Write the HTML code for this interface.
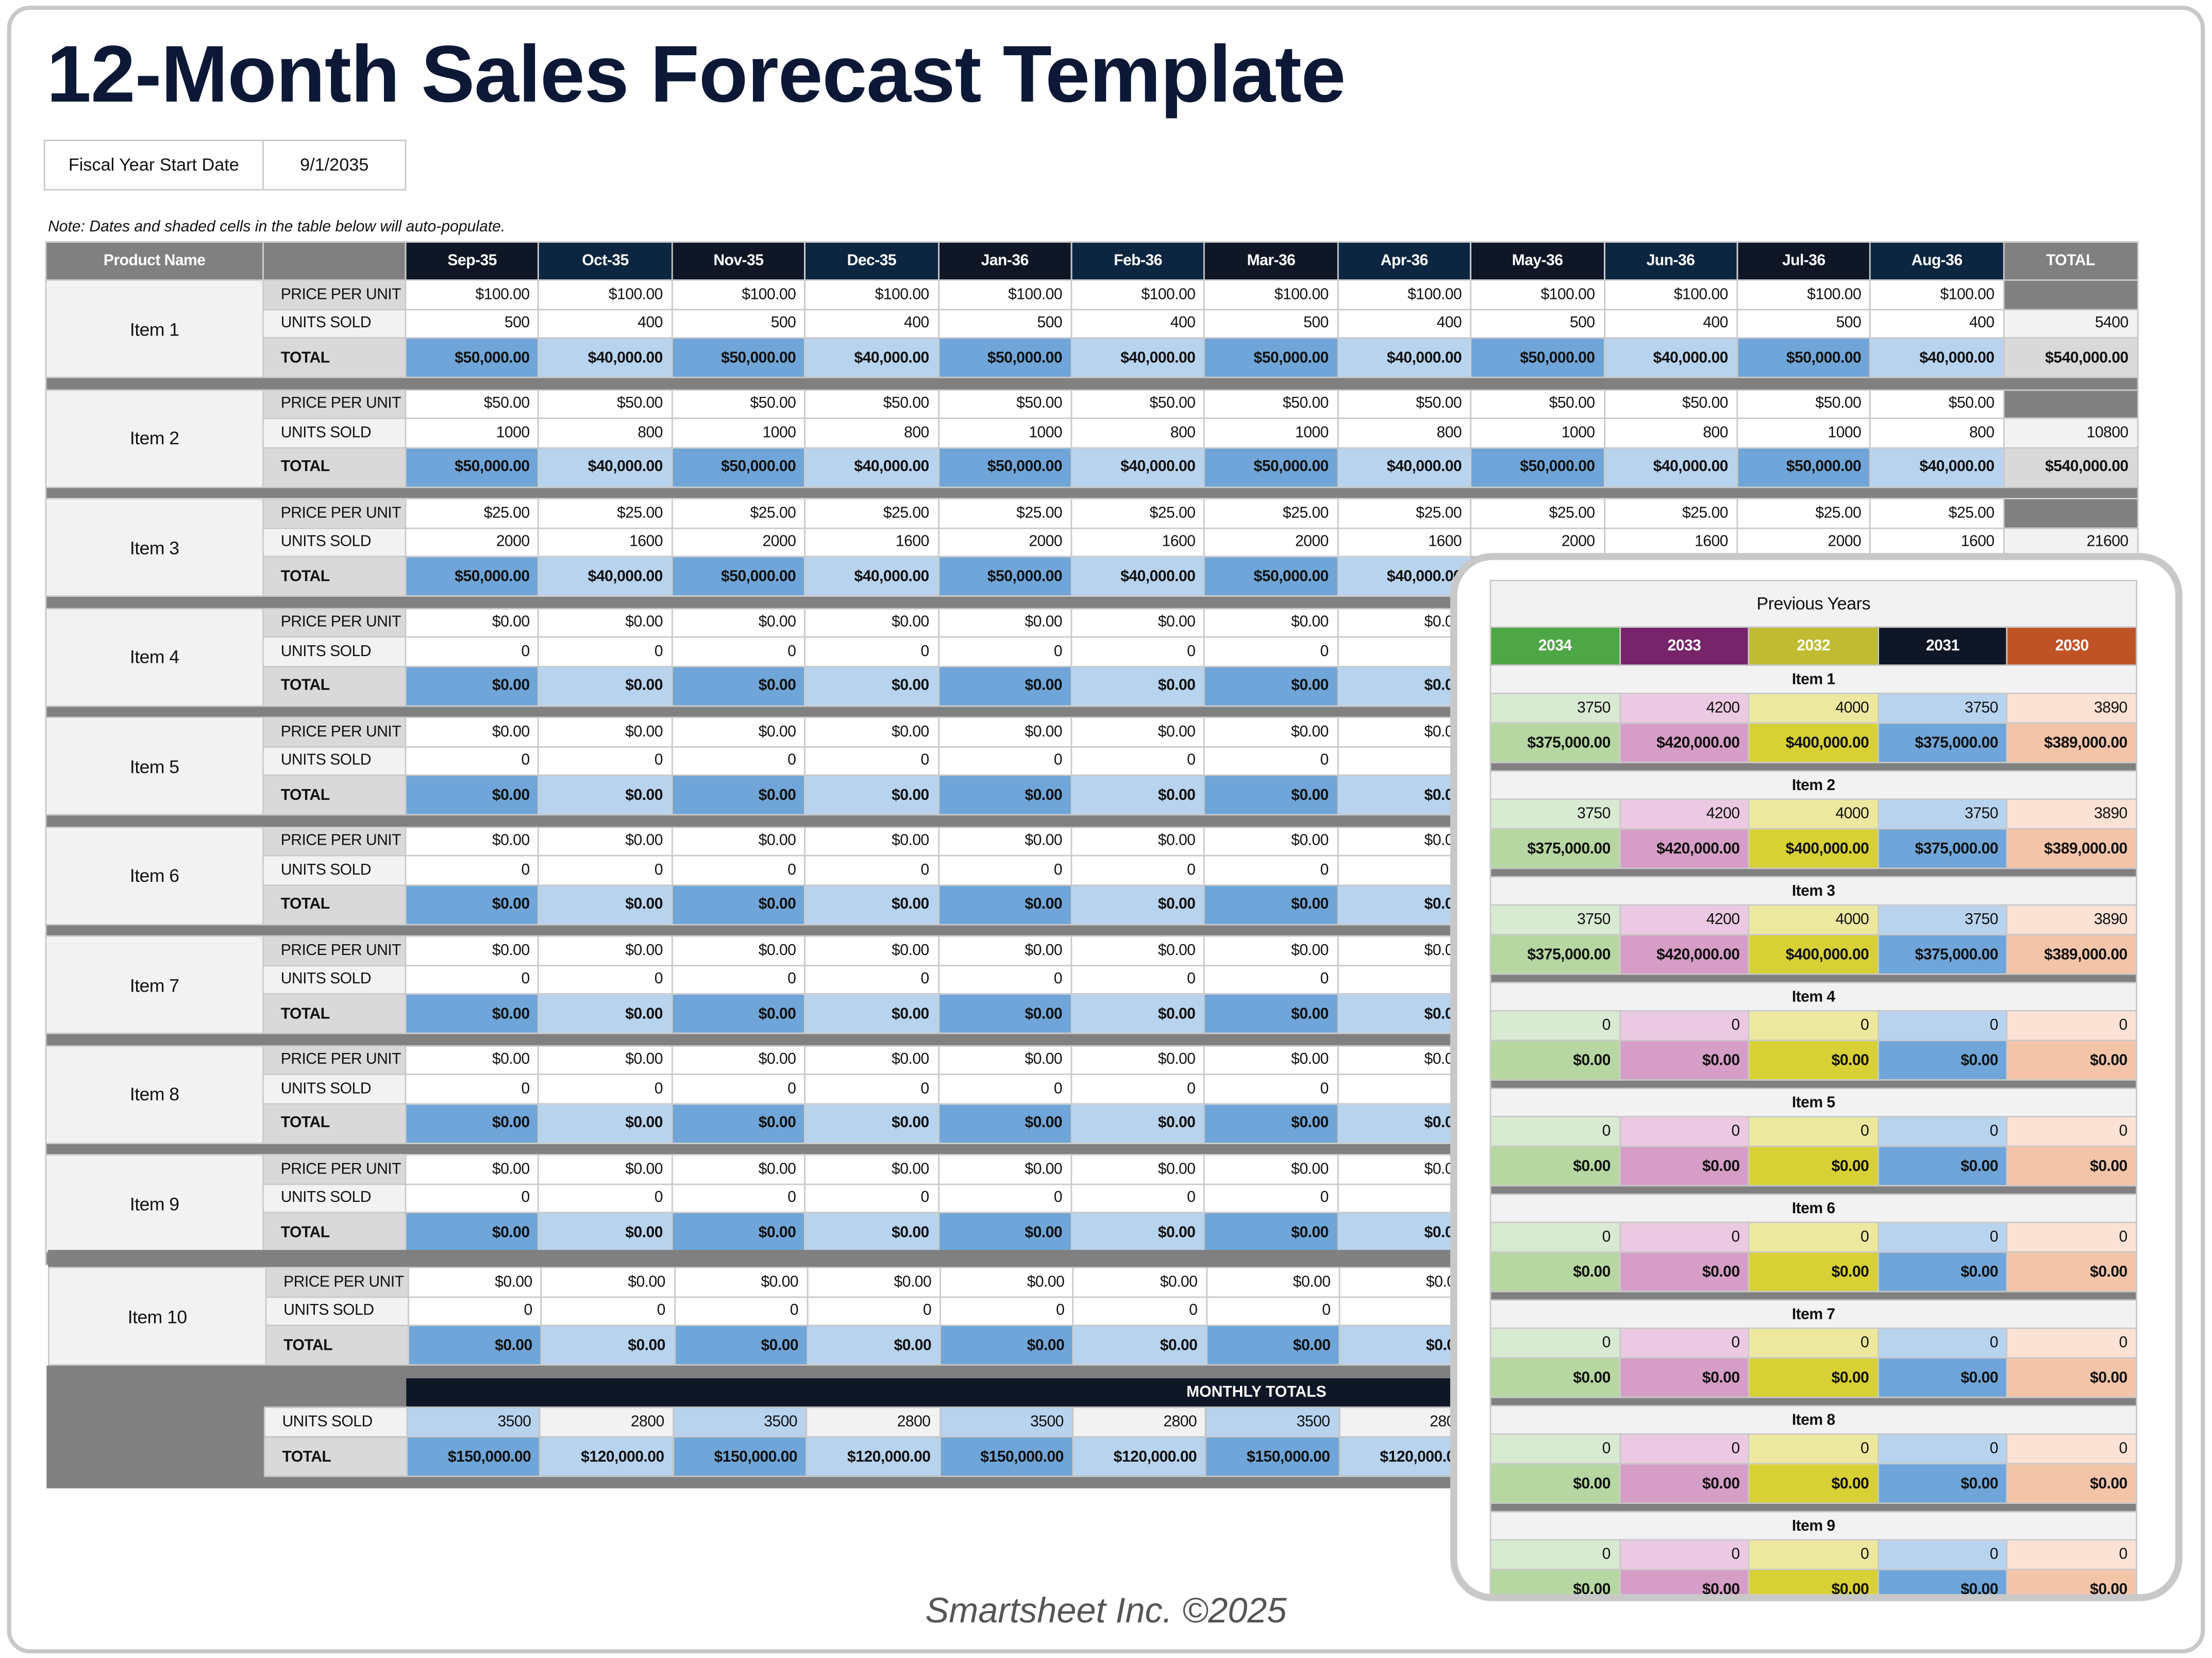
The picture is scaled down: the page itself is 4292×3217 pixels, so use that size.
<!DOCTYPE html>
<html><head><meta charset="utf-8">
<style>
html,body{margin:0;padding:0;background:#fff;width:4292px;height:3217px;overflow:hidden}
#w{position:absolute;left:0;top:0;width:1568px;height:1175px;transform:scale(2.73724);transform-origin:0 0;font-family:"Liberation Sans",sans-serif;color:#111}
.frame{position:absolute;left:5px;top:4px;width:1552px;height:1162px;border:3px solid #c8c8c8;border-radius:16px}
.title{position:absolute;left:33px;top:20px;font-size:57px;font-weight:bold;color:#0c1836;letter-spacing:-0.4px;white-space:nowrap}
.fy{position:absolute;left:31px;top:99px;border-collapse:collapse;font-size:12.5px;table-layout:fixed;width:256px}
.fy td{border:1px solid #c8c8c8;height:34px;padding:0;text-align:center}
.note{position:absolute;left:34px;top:155px;font-size:11px;font-style:italic}
table.m{position:absolute;border-collapse:collapse;table-layout:fixed;font-size:11px}
table.m td{border:1px solid #c8c8c8;padding:0 6px 0 0;text-align:right;white-space:nowrap;overflow:hidden;letter-spacing:-0.2px}
tr.h td{height:26px;background:#808080;color:#fff;text-align:center;font-weight:bold;padding:0;font-size:11px}
tr.h td.d1{background:#0f1726}tr.h td.d2{background:#0c2641}
tr.p td{height:19.5px;background:#fff}
tr.u td{height:19.5px;background:#fff}
tr.t td{height:27px;font-weight:bold}
tr.s td{height:7.5px;background:#808080;padding:0}
td.nm{background:#f2f2f2!important;text-align:center!important;padding:0!important;font-size:13px}
td.lp{background:#d9d9d9!important;text-align:left!important;padding-left:12px!important;font-weight:normal}
td.lu{background:#f2f2f2!important;text-align:left!important;padding-left:12px!important}
td.lt{background:#d9d9d9!important;text-align:left!important;padding-left:12px!important}
td.a{background:#6fa5d8!important}td.b{background:#b8d3ee!important}
td.g{background:#808080!important}td.tu{background:#f2f2f2!important}td.tt{background:#d9d9d9!important}
td.c{background:#f2f2f2!important}
.gb{position:absolute;left:33px;top:968px;width:1482px;height:87px;background:#808080}
.foot{position:absolute;left:0;width:1568px;top:1128px;text-align:center;font-size:25px;font-style:italic;color:#555}
.panel{position:absolute;left:1028px;top:392px;width:509px;height:733px;border:5px solid #c8c8c8;border-radius:30px;background:#fff;overflow:hidden}
table.py{position:absolute;left:23px;top:14px;width:459px;border-collapse:collapse;table-layout:fixed;font-size:11px}
table.py td{border:1px solid #c8c8c8;text-align:right;padding:0 6px 0 0;white-space:nowrap;letter-spacing:-0.2px}
table.py tr.ti td{height:32px;background:#f2f2f2;text-align:center;padding:0;font-size:12.5px}
table.py tr.yr td{height:26px;color:#fff;text-align:center;padding:0;font-weight:bold}
table.py tr.in td{height:19px;background:#f2f2f2;text-align:center;padding:0;font-weight:bold}
table.py tr.v td{height:20px}
table.py tr.tot td{height:27px;font-weight:bold}
table.py tr.sp td{height:5px;background:#808080;padding:0}
.g1{background:#4ea646}.g2{background:#d9ead3}.g3{background:#b6d7a1}
.p1{background:#77246b}.p2{background:#ecc9e2}.p3{background:#d69dc6}
.y1{background:#c0bb30}.y2{background:#ede89f}.y3{background:#d8d135}
.n1{background:#0f1726}.n2{background:#b8d3ee}.n3{background:#6fa5d8}
.o1{background:#bf5326}.o2{background:#fbe2d5}.o3{background:#f4c4a8}
</style></head><body><div id="w">
<div class="frame"></div>
<div class="title">12-Month Sales Forecast Template</div>
<table class="fy"><colgroup><col style="width:155px"><col style="width:101px"></colgroup><tr><td>Fiscal Year Start Date</td><td>9/1/2035</td></tr></table>
<div class="note">Note: Dates and shaded cells in the table below will auto-populate.</div>

<table class="m" style="left:32px;top:171px;width:1483px">
<colgroup><col style="width:154px"><col style="width:101px"><col span="12" style="width:94.4px"><col style="width:95px"></colgroup>
<tr class="h"><td>Product Name</td><td></td><td class="d1">Sep-35</td><td class="d2">Oct-35</td><td class="d1">Nov-35</td><td class="d2">Dec-35</td><td class="d1">Jan-36</td><td class="d2">Feb-36</td><td class="d1">Mar-36</td><td class="d2">Apr-36</td><td class="d1">May-36</td><td class="d2">Jun-36</td><td class="d1">Jul-36</td><td class="d2">Aug-36</td><td>TOTAL</td></tr>

<tr class="p"><td class="nm" rowspan="3">Item 1</td><td class="lp">PRICE PER UNIT</td><td>$100.00</td><td>$100.00</td><td>$100.00</td><td>$100.00</td><td>$100.00</td><td>$100.00</td><td>$100.00</td><td>$100.00</td><td>$100.00</td><td>$100.00</td><td>$100.00</td><td>$100.00</td><td class="g"></td></tr>
<tr class="u"><td class="lu">UNITS SOLD</td><td>500</td><td>400</td><td>500</td><td>400</td><td>500</td><td>400</td><td>500</td><td>400</td><td>500</td><td>400</td><td>500</td><td>400</td><td class="tu">5400</td></tr>
<tr class="t"><td class="lt">TOTAL</td><td class="a">$50,000.00</td><td class="b">$40,000.00</td><td class="a">$50,000.00</td><td class="b">$40,000.00</td><td class="a">$50,000.00</td><td class="b">$40,000.00</td><td class="a">$50,000.00</td><td class="b">$40,000.00</td><td class="a">$50,000.00</td><td class="b">$40,000.00</td><td class="a">$50,000.00</td><td class="b">$40,000.00</td><td class="tt">$540,000.00</td></tr>
<tr class="s"><td colspan="15"></td></tr>

<tr class="p"><td class="nm" rowspan="3">Item 2</td><td class="lp">PRICE PER UNIT</td><td>$50.00</td><td>$50.00</td><td>$50.00</td><td>$50.00</td><td>$50.00</td><td>$50.00</td><td>$50.00</td><td>$50.00</td><td>$50.00</td><td>$50.00</td><td>$50.00</td><td>$50.00</td><td class="g"></td></tr>
<tr class="u"><td class="lu">UNITS SOLD</td><td>1000</td><td>800</td><td>1000</td><td>800</td><td>1000</td><td>800</td><td>1000</td><td>800</td><td>1000</td><td>800</td><td>1000</td><td>800</td><td class="tu">10800</td></tr>
<tr class="t"><td class="lt">TOTAL</td><td class="a">$50,000.00</td><td class="b">$40,000.00</td><td class="a">$50,000.00</td><td class="b">$40,000.00</td><td class="a">$50,000.00</td><td class="b">$40,000.00</td><td class="a">$50,000.00</td><td class="b">$40,000.00</td><td class="a">$50,000.00</td><td class="b">$40,000.00</td><td class="a">$50,000.00</td><td class="b">$40,000.00</td><td class="tt">$540,000.00</td></tr>
<tr class="s"><td colspan="15"></td></tr>

<tr class="p"><td class="nm" rowspan="3">Item 3</td><td class="lp">PRICE PER UNIT</td><td>$25.00</td><td>$25.00</td><td>$25.00</td><td>$25.00</td><td>$25.00</td><td>$25.00</td><td>$25.00</td><td>$25.00</td><td>$25.00</td><td>$25.00</td><td>$25.00</td><td>$25.00</td><td class="g"></td></tr>
<tr class="u"><td class="lu">UNITS SOLD</td><td>2000</td><td>1600</td><td>2000</td><td>1600</td><td>2000</td><td>1600</td><td>2000</td><td>1600</td><td>2000</td><td>1600</td><td>2000</td><td>1600</td><td class="tu">21600</td></tr>
<tr class="t"><td class="lt">TOTAL</td><td class="a">$50,000.00</td><td class="b">$40,000.00</td><td class="a">$50,000.00</td><td class="b">$40,000.00</td><td class="a">$50,000.00</td><td class="b">$40,000.00</td><td class="a">$50,000.00</td><td class="b">$40,000.00</td><td class="a">$50,000.00</td><td class="b">$40,000.00</td><td class="a">$50,000.00</td><td class="b">$40,000.00</td><td class="tt">$540,000.00</td></tr>
<tr class="s"><td colspan="15"></td></tr>

<tr class="p"><td class="nm" rowspan="3">Item 4</td><td class="lp">PRICE PER UNIT</td><td>$0.00</td><td>$0.00</td><td>$0.00</td><td>$0.00</td><td>$0.00</td><td>$0.00</td><td>$0.00</td><td>$0.00</td><td>$0.00</td><td>$0.00</td><td>$0.00</td><td>$0.00</td><td class="g"></td></tr>
<tr class="u"><td class="lu">UNITS SOLD</td><td>0</td><td>0</td><td>0</td><td>0</td><td>0</td><td>0</td><td>0</td><td>0</td><td>0</td><td>0</td><td>0</td><td>0</td><td class="tu">0</td></tr>
<tr class="t"><td class="lt">TOTAL</td><td class="a">$0.00</td><td class="b">$0.00</td><td class="a">$0.00</td><td class="b">$0.00</td><td class="a">$0.00</td><td class="b">$0.00</td><td class="a">$0.00</td><td class="b">$0.00</td><td class="a">$0.00</td><td class="b">$0.00</td><td class="a">$0.00</td><td class="b">$0.00</td><td class="tt">$0.00</td></tr>
<tr class="s"><td colspan="15"></td></tr>

<tr class="p"><td class="nm" rowspan="3">Item 5</td><td class="lp">PRICE PER UNIT</td><td>$0.00</td><td>$0.00</td><td>$0.00</td><td>$0.00</td><td>$0.00</td><td>$0.00</td><td>$0.00</td><td>$0.00</td><td>$0.00</td><td>$0.00</td><td>$0.00</td><td>$0.00</td><td class="g"></td></tr>
<tr class="u"><td class="lu">UNITS SOLD</td><td>0</td><td>0</td><td>0</td><td>0</td><td>0</td><td>0</td><td>0</td><td>0</td><td>0</td><td>0</td><td>0</td><td>0</td><td class="tu">0</td></tr>
<tr class="t"><td class="lt">TOTAL</td><td class="a">$0.00</td><td class="b">$0.00</td><td class="a">$0.00</td><td class="b">$0.00</td><td class="a">$0.00</td><td class="b">$0.00</td><td class="a">$0.00</td><td class="b">$0.00</td><td class="a">$0.00</td><td class="b">$0.00</td><td class="a">$0.00</td><td class="b">$0.00</td><td class="tt">$0.00</td></tr>
<tr class="s"><td colspan="15"></td></tr>

<tr class="p"><td class="nm" rowspan="3">Item 6</td><td class="lp">PRICE PER UNIT</td><td>$0.00</td><td>$0.00</td><td>$0.00</td><td>$0.00</td><td>$0.00</td><td>$0.00</td><td>$0.00</td><td>$0.00</td><td>$0.00</td><td>$0.00</td><td>$0.00</td><td>$0.00</td><td class="g"></td></tr>
<tr class="u"><td class="lu">UNITS SOLD</td><td>0</td><td>0</td><td>0</td><td>0</td><td>0</td><td>0</td><td>0</td><td>0</td><td>0</td><td>0</td><td>0</td><td>0</td><td class="tu">0</td></tr>
<tr class="t"><td class="lt">TOTAL</td><td class="a">$0.00</td><td class="b">$0.00</td><td class="a">$0.00</td><td class="b">$0.00</td><td class="a">$0.00</td><td class="b">$0.00</td><td class="a">$0.00</td><td class="b">$0.00</td><td class="a">$0.00</td><td class="b">$0.00</td><td class="a">$0.00</td><td class="b">$0.00</td><td class="tt">$0.00</td></tr>
<tr class="s"><td colspan="15"></td></tr>

<tr class="p"><td class="nm" rowspan="3">Item 7</td><td class="lp">PRICE PER UNIT</td><td>$0.00</td><td>$0.00</td><td>$0.00</td><td>$0.00</td><td>$0.00</td><td>$0.00</td><td>$0.00</td><td>$0.00</td><td>$0.00</td><td>$0.00</td><td>$0.00</td><td>$0.00</td><td class="g"></td></tr>
<tr class="u"><td class="lu">UNITS SOLD</td><td>0</td><td>0</td><td>0</td><td>0</td><td>0</td><td>0</td><td>0</td><td>0</td><td>0</td><td>0</td><td>0</td><td>0</td><td class="tu">0</td></tr>
<tr class="t"><td class="lt">TOTAL</td><td class="a">$0.00</td><td class="b">$0.00</td><td class="a">$0.00</td><td class="b">$0.00</td><td class="a">$0.00</td><td class="b">$0.00</td><td class="a">$0.00</td><td class="b">$0.00</td><td class="a">$0.00</td><td class="b">$0.00</td><td class="a">$0.00</td><td class="b">$0.00</td><td class="tt">$0.00</td></tr>
<tr class="s"><td colspan="15"></td></tr>

<tr class="p"><td class="nm" rowspan="3">Item 8</td><td class="lp">PRICE PER UNIT</td><td>$0.00</td><td>$0.00</td><td>$0.00</td><td>$0.00</td><td>$0.00</td><td>$0.00</td><td>$0.00</td><td>$0.00</td><td>$0.00</td><td>$0.00</td><td>$0.00</td><td>$0.00</td><td class="g"></td></tr>
<tr class="u"><td class="lu">UNITS SOLD</td><td>0</td><td>0</td><td>0</td><td>0</td><td>0</td><td>0</td><td>0</td><td>0</td><td>0</td><td>0</td><td>0</td><td>0</td><td class="tu">0</td></tr>
<tr class="t"><td class="lt">TOTAL</td><td class="a">$0.00</td><td class="b">$0.00</td><td class="a">$0.00</td><td class="b">$0.00</td><td class="a">$0.00</td><td class="b">$0.00</td><td class="a">$0.00</td><td class="b">$0.00</td><td class="a">$0.00</td><td class="b">$0.00</td><td class="a">$0.00</td><td class="b">$0.00</td><td class="tt">$0.00</td></tr>
<tr class="s"><td colspan="15"></td></tr>

<tr class="p"><td class="nm" rowspan="3">Item 9</td><td class="lp">PRICE PER UNIT</td><td>$0.00</td><td>$0.00</td><td>$0.00</td><td>$0.00</td><td>$0.00</td><td>$0.00</td><td>$0.00</td><td>$0.00</td><td>$0.00</td><td>$0.00</td><td>$0.00</td><td>$0.00</td><td class="g"></td></tr>
<tr class="u"><td class="lu">UNITS SOLD</td><td>0</td><td>0</td><td>0</td><td>0</td><td>0</td><td>0</td><td>0</td><td>0</td><td>0</td><td>0</td><td>0</td><td>0</td><td class="tu">0</td></tr>
<tr class="t"><td class="lt">TOTAL</td><td class="a">$0.00</td><td class="b">$0.00</td><td class="a">$0.00</td><td class="b">$0.00</td><td class="a">$0.00</td><td class="b">$0.00</td><td class="a">$0.00</td><td class="b">$0.00</td><td class="a">$0.00</td><td class="b">$0.00</td><td class="a">$0.00</td><td class="b">$0.00</td><td class="tt">$0.00</td></tr>
<tr class="s"><td colspan="15"></td></tr>
</table>

<div style="position:absolute;left:34px;top:886px;width:1481px;height:12px;background:#808080"></div>

<table class="m" style="left:34px;top:898px;width:1481px">
<colgroup><col style="width:154px"><col style="width:101px"><col span="12" style="width:94.3px"><col style="width:94px"></colgroup>
<tr class="p"><td class="nm" rowspan="3">Item 10</td><td class="lp">PRICE PER UNIT</td><td>$0.00</td><td>$0.00</td><td>$0.00</td><td>$0.00</td><td>$0.00</td><td>$0.00</td><td>$0.00</td><td>$0.00</td><td>$0.00</td><td>$0.00</td><td>$0.00</td><td>$0.00</td><td class="g"></td></tr>
<tr class="u"><td class="lu">UNITS SOLD</td><td>0</td><td>0</td><td>0</td><td>0</td><td>0</td><td>0</td><td>0</td><td>0</td><td>0</td><td>0</td><td>0</td><td>0</td><td class="tu">0</td></tr>
<tr class="t"><td class="lt">TOTAL</td><td class="a">$0.00</td><td class="b">$0.00</td><td class="a">$0.00</td><td class="b">$0.00</td><td class="a">$0.00</td><td class="b">$0.00</td><td class="a">$0.00</td><td class="b">$0.00</td><td class="a">$0.00</td><td class="b">$0.00</td><td class="a">$0.00</td><td class="b">$0.00</td><td class="tt">$0.00</td></tr>
</table>

<div class="gb"></div>
<div style="position:absolute;left:288px;top:977px;width:1227px;height:20px;background:#0f1726;color:#fff;font-size:11px;font-weight:bold"><span style="position:absolute;left:553px;top:4px">MONTHLY TOTALS</span></div>
<table class="m" style="left:187px;top:997px;width:1328px">
<colgroup><col style="width:101px"><col span="12" style="width:94.4px"><col style="width:94px"></colgroup>
<tr class="u"><td class="lu" style="height:20px">UNITS SOLD</td><td class="b">3500</td><td class="c">2800</td><td class="b">3500</td><td class="c">2800</td><td class="b">3500</td><td class="c">2800</td><td class="b">3500</td><td class="c">2800</td><td class="b">3500</td><td class="c">2800</td><td class="b">3500</td><td class="c">2800</td><td class="c">33600</td></tr>
<tr class="t"><td class="lt" style="height:26px">TOTAL</td><td class="a">$150,000.00</td><td class="b">$120,000.00</td><td class="a">$150,000.00</td><td class="b">$120,000.00</td><td class="a">$150,000.00</td><td class="b">$120,000.00</td><td class="a">$150,000.00</td><td class="b">$120,000.00</td><td class="a">$150,000.00</td><td class="b">$120,000.00</td><td class="a">$150,000.00</td><td class="b">$120,000.00</td><td class="tt">$1,620,000.00</td></tr>
</table>

<div class="foot">Smartsheet Inc. ©2025</div>

<div class="panel">
<table class="py">
<tr class="ti"><td colspan="5">Previous Years</td></tr>
<tr class="yr"><td class="g1">2034</td><td class="p1">2033</td><td class="y1">2032</td><td class="n1">2031</td><td class="o1">2030</td></tr>

<tr class="in"><td colspan="5">Item 1</td></tr>
<tr class="v"><td class="g2">3750</td><td class="p2">4200</td><td class="y2">4000</td><td class="n2">3750</td><td class="o2">3890</td></tr>
<tr class="tot"><td class="g3">$375,000.00</td><td class="p3">$420,000.00</td><td class="y3">$400,000.00</td><td class="n3">$375,000.00</td><td class="o3">$389,000.00</td></tr>
<tr class="sp"><td colspan="5"></td></tr>

<tr class="in"><td colspan="5">Item 2</td></tr>
<tr class="v"><td class="g2">3750</td><td class="p2">4200</td><td class="y2">4000</td><td class="n2">3750</td><td class="o2">3890</td></tr>
<tr class="tot"><td class="g3">$375,000.00</td><td class="p3">$420,000.00</td><td class="y3">$400,000.00</td><td class="n3">$375,000.00</td><td class="o3">$389,000.00</td></tr>
<tr class="sp"><td colspan="5"></td></tr>

<tr class="in"><td colspan="5">Item 3</td></tr>
<tr class="v"><td class="g2">3750</td><td class="p2">4200</td><td class="y2">4000</td><td class="n2">3750</td><td class="o2">3890</td></tr>
<tr class="tot"><td class="g3">$375,000.00</td><td class="p3">$420,000.00</td><td class="y3">$400,000.00</td><td class="n3">$375,000.00</td><td class="o3">$389,000.00</td></tr>
<tr class="sp"><td colspan="5"></td></tr>

<tr class="in"><td colspan="5">Item 4</td></tr>
<tr class="v"><td class="g2">0</td><td class="p2">0</td><td class="y2">0</td><td class="n2">0</td><td class="o2">0</td></tr>
<tr class="tot"><td class="g3">$0.00</td><td class="p3">$0.00</td><td class="y3">$0.00</td><td class="n3">$0.00</td><td class="o3">$0.00</td></tr>
<tr class="sp"><td colspan="5"></td></tr>

<tr class="in"><td colspan="5">Item 5</td></tr>
<tr class="v"><td class="g2">0</td><td class="p2">0</td><td class="y2">0</td><td class="n2">0</td><td class="o2">0</td></tr>
<tr class="tot"><td class="g3">$0.00</td><td class="p3">$0.00</td><td class="y3">$0.00</td><td class="n3">$0.00</td><td class="o3">$0.00</td></tr>
<tr class="sp"><td colspan="5"></td></tr>

<tr class="in"><td colspan="5">Item 6</td></tr>
<tr class="v"><td class="g2">0</td><td class="p2">0</td><td class="y2">0</td><td class="n2">0</td><td class="o2">0</td></tr>
<tr class="tot"><td class="g3">$0.00</td><td class="p3">$0.00</td><td class="y3">$0.00</td><td class="n3">$0.00</td><td class="o3">$0.00</td></tr>
<tr class="sp"><td colspan="5"></td></tr>

<tr class="in"><td colspan="5">Item 7</td></tr>
<tr class="v"><td class="g2">0</td><td class="p2">0</td><td class="y2">0</td><td class="n2">0</td><td class="o2">0</td></tr>
<tr class="tot"><td class="g3">$0.00</td><td class="p3">$0.00</td><td class="y3">$0.00</td><td class="n3">$0.00</td><td class="o3">$0.00</td></tr>
<tr class="sp"><td colspan="5"></td></tr>

<tr class="in"><td colspan="5">Item 8</td></tr>
<tr class="v"><td class="g2">0</td><td class="p2">0</td><td class="y2">0</td><td class="n2">0</td><td class="o2">0</td></tr>
<tr class="tot"><td class="g3">$0.00</td><td class="p3">$0.00</td><td class="y3">$0.00</td><td class="n3">$0.00</td><td class="o3">$0.00</td></tr>
<tr class="sp"><td colspan="5"></td></tr>

<tr class="in"><td colspan="5">Item 9</td></tr>
<tr class="v"><td class="g2">0</td><td class="p2">0</td><td class="y2">0</td><td class="n2">0</td><td class="o2">0</td></tr>
<tr class="tot"><td class="g3">$0.00</td><td class="p3">$0.00</td><td class="y3">$0.00</td><td class="n3">$0.00</td><td class="o3">$0.00</td></tr>
<tr class="sp"><td colspan="5"></td></tr>
</table>
</div>
</div></body></html>
